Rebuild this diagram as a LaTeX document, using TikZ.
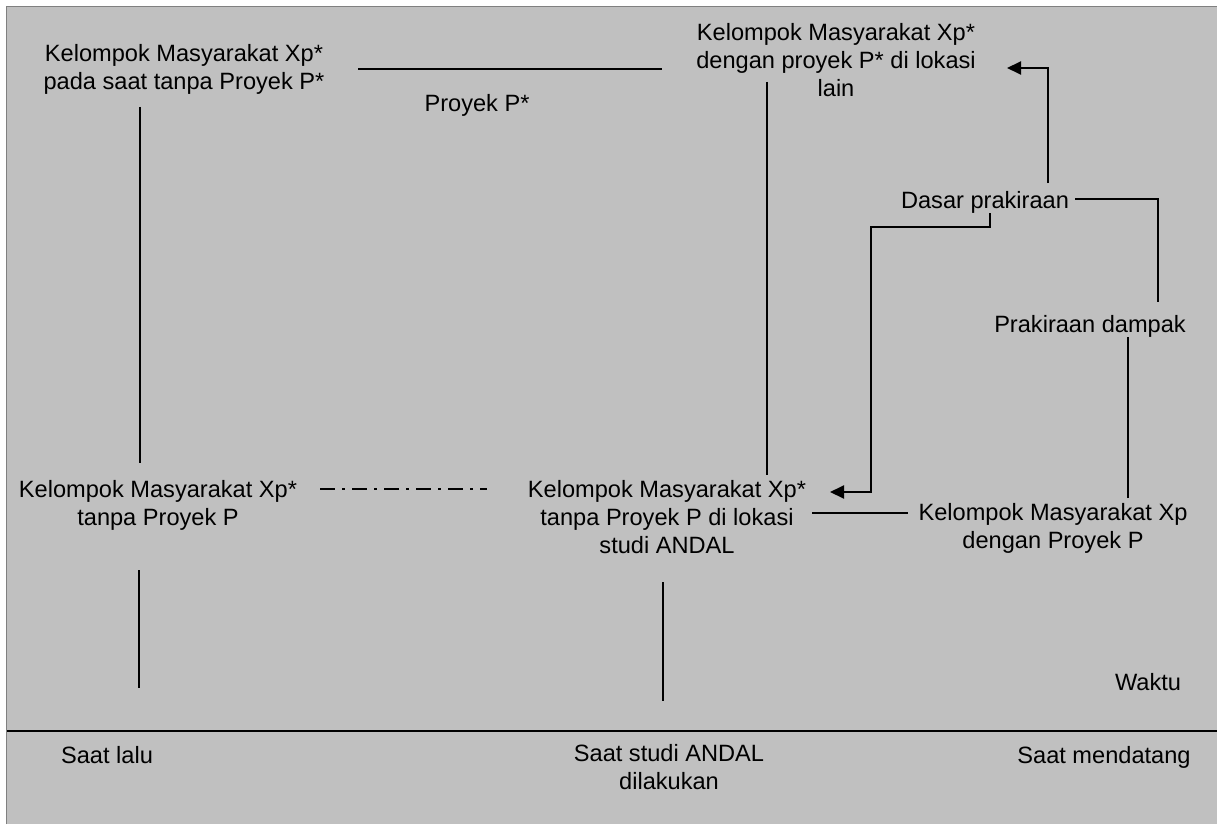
\documentclass[tikz,border=0pt]{standalone}
\usepackage{fontspec}
\setmainfont{Liberation Sans}
\usetikzlibrary{arrows.meta,calc}
\definecolor{panel}{HTML}{C0C0C0}
\definecolor{rim}{HTML}{808080}
\begin{document}
\begin{tikzpicture}[x=1pt,y=-1pt]
	\tikzstyle{community}=[align=center,inner sep=0pt,anchor=base,font=\fontsize{23.6}{28}\selectfont]
	\tikzstyle{note}=[inner sep=0pt,anchor=base,font=\fontsize{23.6}{28}\selectfont]
	\tikzstyle{link}=[draw, line width=2pt]
	\tikzstyle{arrowlink}=[draw, line width=2pt, -{Triangle[length=14pt,width=13pt]}]
	\useasboundingbox (0,0) rectangle (1217,824);
	% panel and time axis
	\fill[white] (0,0) rectangle (1217,824);
	\fill[panel] (7,7) rectangle (1217,824);
	\draw[rim, line width=1.5pt] (6.5,824) -- (6.5,6.5) -- (1217,6.5);
	\draw[line width=2.5pt] (7,731) -- (1217,731);
	\begin{scope}
		\node [community] (tl) at (184,90) {Kelompok Masyarakat Xp*\\pada saat tanpa Proyek P*};
		\node [community] (tr) at (836,97) {Kelompok Masyarakat Xp*\\dengan proyek P* di lokasi\\lain};
		\node [note] (proj) at (477,112) {Proyek P*};
		\node [note] (dasar) at (985,208) {Dasar prakiraan};
		\node [note] (dampak) at (1090,332) {Prakiraan dampak};
		\node [community] (bl) at (158,525) {Kelompok Masyarakat Xp*\\tanpa Proyek P};
		\node [community] (mid) at (667,553) {Kelompok Masyarakat Xp*\\tanpa Proyek P di lokasi\\studi ANDAL};
		\node [community] (br) at (1053,548) {Kelompok Masyarakat Xp\\dengan Proyek P};
		\node [note] (waktu) at (1148,690) {Waktu};
		\node [note] (lalu) at (107,763) {Saat lalu};
		\node [community] (studi) at (669,789) {Saat studi ANDAL\\dilakukan};
		\node [note] (datang) at (1104,763) {Saat mendatang};
		% connectors
		\path[link] ($(tl.base)+(174,-21)$) -- ($(tr.base)+(-174,-28)$);
		\path[link] ($(tl.base)+(-44,17)$) -- ($(bl.base)+(-18,-62)$);
		\path[link] ($(bl.base)+(-19,45)$) -- ($(lalu.base)+(32,-75)$);
		\path[link] ($(tr.base)+(-69,-15)$) -- ($(mid.base)+(100,-78)$);
		\path[link] ($(mid.base)+(-4,29)$) -- ($(studi.base)+(-6,-88)$);
		\path[link, dash pattern=on 15pt off 7pt on 3pt off 7pt] ($(bl.base)+(162,-36)$) -- ($(mid.base)+(-180,-64)$);
		\path[link] ($(mid.base)+(145,-40)$) -- ($(br.base)+(-145,-35)$);
		\path[link] ($(br.base)+(75,-50)$) -- ($(dampak.base)+(38,5)$);
		\path[link] ($(dasar.base)+(90,-9)$) -| ($(dampak.base)+(68,-30)$);
		\path[arrowlink] ($(dasar.base)+(63,-25)$) |- ($(tr.base)+(171,-29)$);
		\path[arrowlink] ($(dasar.base)+(5,5)$) |- ($(dasar.base)+(-114,19)$) |- ($(mid.base)+(163,-61)$);
	\end{scope}
\end{tikzpicture}
\end{document}
